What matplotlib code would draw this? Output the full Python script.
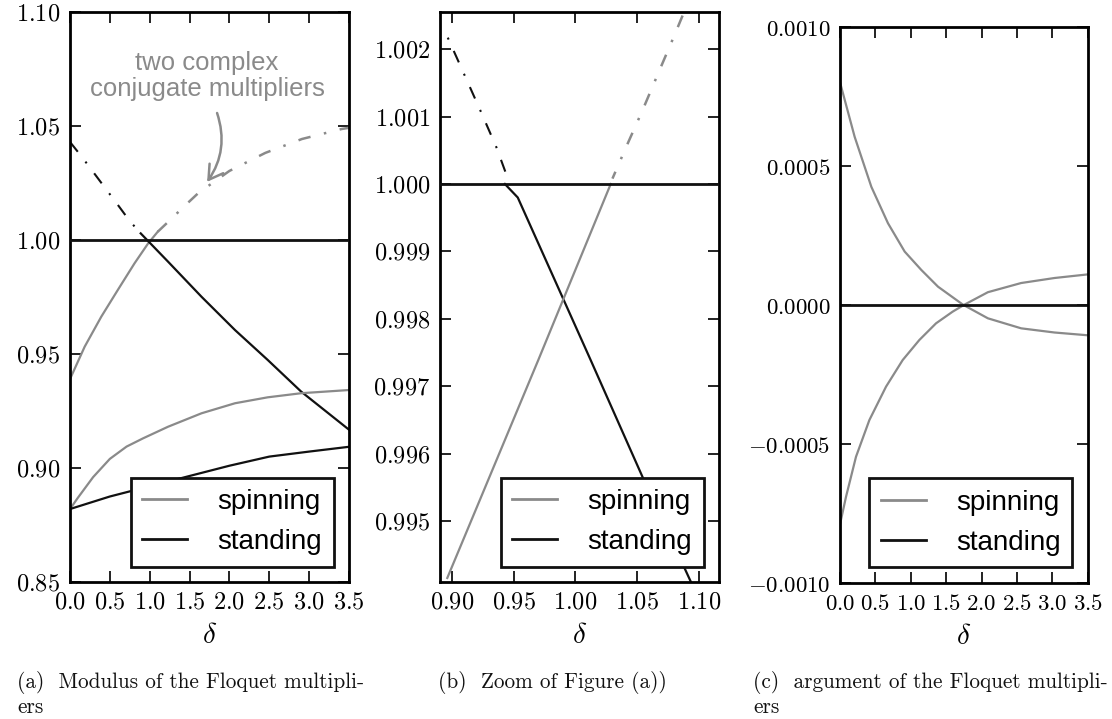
import matplotlib
matplotlib.use("Agg")
import matplotlib.pyplot as plt
from matplotlib.ticker import FuncFormatter, MultipleLocator
from matplotlib.lines import Line2D

plt.rcParams['mathtext.fontset'] = 'cm'
plt.rcParams['font.family'] = ['Liberation Sans', 'DejaVu Sans']

GRAY = '#8a8a8a'
BLACK = '#111111'

# ---------------- Panel (a): modulus ----------------
a_spin_solid_x = [0.0, 0.184, 0.393, 0.60, 0.81, 0.98, 1.10]
a_spin_solid_y = [0.939, 0.9532, 0.9664, 0.9781, 0.9898, 0.9985, 1.0036]
a_spin_dd_x = [1.10, 1.242, 1.418, 1.61, 2.0, 2.45, 2.91, 3.41, 3.5]
a_spin_dd_y = [1.0036, 1.0083, 1.0143, 1.0206, 1.0303, 1.0382, 1.0443, 1.0487, 1.0492]
a_stand_dd_x = [0.0, 0.15, 0.45, 0.60, 0.75, 0.887]
a_stand_dd_y = [1.0430, 1.0364, 1.0224, 1.0154, 1.0083, 1.0029]
a_stand_solid_x = [0.887, 1.23, 1.65, 2.07, 2.48, 2.90, 3.5]
a_stand_solid_y = [1.0029, 0.9905, 0.9751, 0.9605, 0.9474, 0.9335, 0.9168]
a_spin_low_x = [0.0, 0.1, 0.29, 0.5, 0.71, 0.916, 1.23, 1.65, 2.07, 2.48, 2.9, 3.5]
a_spin_low_y = [0.882, 0.887, 0.896, 0.904, 0.9094, 0.9130, 0.9181, 0.9240, 0.9284,
                0.9310, 0.9328, 0.9342]
a_stand_low_x = [0.0, 0.5, 1.0, 1.5, 2.0, 2.5, 3.0, 3.5]
a_stand_low_y = [0.882, 0.8875, 0.892, 0.8965, 0.901, 0.905, 0.9072, 0.9093]
a_unit_x = [0.0, 3.5]
a_unit_y = [1.0, 1.0]

# ---------------- Panel (b): zoom ----------------
b_stand_dd_x = [0.8968, 0.9229, 0.9360, 0.9440]
b_stand_dd_y = [1.00217, 1.00110, 1.00055, 1.00015]
b_stand_solid_x = [0.943, 0.9534, 1.0119, 1.055, 1.0935]
b_stand_solid_y = [1.0000, 0.99980, 0.99741, 0.99563, 0.99410]
b_spin_solid_x = [0.8964, 0.970, 1.0286]
b_spin_solid_y = [0.99416, 0.99739, 1.0000]
b_spin_dd_x = [1.0300, 1.0416, 1.0545, 1.0671, 1.0798, 1.0900]
b_spin_dd_y = [1.00008, 1.00057, 1.00110, 1.001645, 1.00219, 1.00264]
b_unit_x = [0.88, 1.12]
b_unit_y = [1.0, 1.0]

# ---------------- Panel (c): argument ----------------
c_up_x = [0.0, 0.207, 0.443, 0.678, 0.914, 1.149, 1.385, 1.738, 2.09, 2.56, 3.03, 3.5]
c_up_y = [0.00080, 0.000604, 0.000424, 0.000293, 0.000191, 0.000125, 0.0000648,
          0.0, -0.000049, -0.000085, -0.000100, -0.000110]
c_dn_x = [0.0, 0.085, 0.226, 0.415, 0.65, 0.886, 1.121, 1.357, 1.592, 1.757,
          2.09, 2.56, 3.03, 3.5]
c_dn_y = [-0.00079, -0.000691, -0.000547, -0.000415, -0.000295, -0.000199, -0.000127,
          -0.000067, -0.000025, 0.0, 0.000045, 0.000078, 0.000096, 0.000109]
c_stand_x = [0.0, 3.5]
c_stand_y = [0.0, 0.0]

fig = plt.figure(figsize=(11.12, 7.19), dpi=100)

W, H = 1112.0, 719.0
def ax_at(l, t, r, b):
    return fig.add_axes([l / W, 1 - b / H, (r - l) / W, (b - t) / H])

axa = ax_at(70, 12, 349, 582)
axb = ax_at(440, 12, 719, 582)
axc = ax_at(840, 26.7, 1087.7, 582.7)

DD_BLACK = (0, (6, 6, 1, 6))
DD_GRAY = (0, (5, 5.5, 1, 5.5))


def style(ax, fmt, fs):
    for s in ax.spines.values():
        s.set_linewidth(2.0)
    ax.tick_params(direction='in', length=8, width=1.3, top=True, right=True,
                   labelsize=fs, pad=7, color=BLACK)
    ax.xaxis.set_major_formatter(FuncFormatter(lambda v, p: r'$%s$' % fmt[0].format(v)))
    ax.yaxis.set_major_formatter(FuncFormatter(lambda v, p: r'$%s$' % fmt[1].format(v)))
    ax.set_xlabel(r'$\delta$', fontsize=21, labelpad=5)


def legend(ax):
    h = [Line2D([], [], color=GRAY, lw=2), Line2D([], [], color=BLACK, lw=2)]
    lg = ax.legend(h, ['spinning', 'standing'], loc='lower right', fontsize=20,
                   handlelength=1.6, handletextpad=1.1, borderpad=0.42,
                   borderaxespad=0.55, labelspacing=0.5, fancybox=False,
                   framealpha=1, edgecolor=BLACK)
    lg.get_frame().set_linewidth(2.0)

# Panel (a)
axa.plot(a_unit_x, a_unit_y, color=BLACK, lw=2.0, zorder=4)
axa.plot(a_spin_solid_x, a_spin_solid_y, color=GRAY, lw=1.6)
axa.plot(a_spin_dd_x, a_spin_dd_y, color=GRAY, lw=1.8, linestyle=DD_GRAY)
axa.plot(a_stand_dd_x, a_stand_dd_y, color=BLACK, lw=1.5, linestyle=DD_BLACK)
axa.plot(a_stand_solid_x, a_stand_solid_y, color=BLACK, lw=1.6)
axa.plot(a_spin_low_x, a_spin_low_y, color=GRAY, lw=1.6)
axa.plot(a_stand_low_x, a_stand_low_y, color=BLACK, lw=1.6)
axa.set_xlim(0, 3.5)
axa.set_ylim(0.85, 1.10)
axa.xaxis.set_major_locator(MultipleLocator(0.5))
axa.yaxis.set_major_locator(MultipleLocator(0.05))
style(axa, ('{:.1f}', '{:.2f}'), 17.5)
axa.text(1.72, 1.0719, 'two complex\nconjugate multipliers', ha='center', va='center',
         color=GRAY, fontsize=18.5, linespacing=1.1)
axa.annotate('', xy=(1.72, 1.0255), xytext=(1.845, 1.0557),
             arrowprops=dict(arrowstyle='->,head_length=0.5,head_width=0.3', color=GRAY,
                             lw=1.8, connectionstyle='arc3,rad=-0.25',
                             shrinkA=0, shrinkB=0, mutation_scale=20))
legend(axa)

# Panel (b)
axb.plot(b_unit_x, b_unit_y, color=BLACK, lw=2.0, zorder=4)
axb.plot(b_stand_dd_x, b_stand_dd_y, color=BLACK, lw=1.5, linestyle=(0, (1, 6, 6, 6)))
axb.plot(b_stand_solid_x, b_stand_solid_y, color=BLACK, lw=1.6)
axb.plot(b_spin_solid_x, b_spin_solid_y, color=GRAY, lw=1.6)
axb.plot(b_spin_dd_x, b_spin_dd_y, color=GRAY, lw=1.8, linestyle=(2, (5, 5.5, 1, 5.5)))
axb.set_xlim(0.8905, 1.1162)
axb.set_ylim(0.99410, 1.00255)
axb.set_xticks([0.90, 0.95, 1.00, 1.05, 1.10])
axb.set_yticks([0.995, 0.996, 0.997, 0.998, 0.999, 1.000, 1.001, 1.002])
style(axb, ('{:.2f}', '{:.3f}'), 17.5)
legend(axb)

# Panel (c)
axc.plot(c_up_x, c_up_y, color=GRAY, lw=1.6)
axc.plot(c_dn_x, c_dn_y, color=GRAY, lw=1.6)
axc.plot(c_stand_x, c_stand_y, color=BLACK, lw=2.0)
axc.set_xlim(0, 3.5)
axc.set_ylim(-0.001, 0.001)
axc.xaxis.set_major_locator(MultipleLocator(0.5))
axc.set_yticks([-0.001, -0.0005, 0.0, 0.0005, 0.001])
style(axc, ('{:.1f}', '{:.4f}'), 16.5)
legend(axc)

# Captions
cap = dict(fontfamily='cmr10', fontsize=15.3, va='center', ha='left', color=BLACK)
fig.text(17 / W, 1 - 682 / H, '(a)  Modulus of the Floquet multipli-', **cap)
fig.text(17 / W, 1 - 707 / H, 'ers', **cap)
fig.text(438 / W, 1 - 682 / H, '(b)  Zoom of Figure (a))', **cap)
fig.text(753 / W, 1 - 682 / H, '(c)  argument of the Floquet multipli-', **cap)
fig.text(753 / W, 1 - 707 / H, 'ers', **cap)

fig.savefig('out.png', dpi=100)
